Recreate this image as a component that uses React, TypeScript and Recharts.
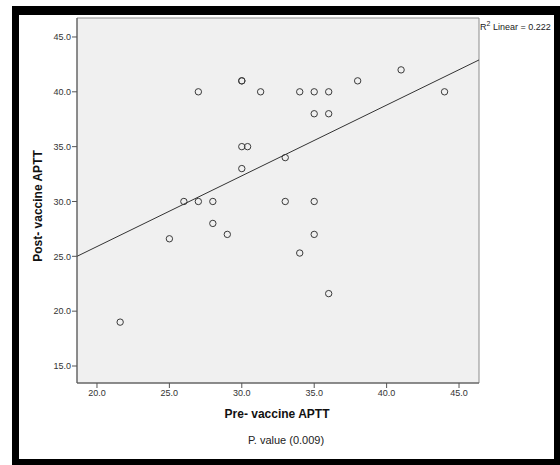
import React from "react";
import { CartesianGrid, ReferenceArea, ReferenceLine, Scatter, ScatterChart, XAxis, YAxis } from "recharts";

// pre / post vaccine APTT pairs
const preAPTT = [21.6, 25, 26, 27, 27, 28, 28, 29, 30, 30, 30, 30.4, 30, 31.3, 33, 33, 34, 34, 35, 35, 35, 35, 36, 36, 36, 38, 41, 44];
const postAPTT = [19, 26.6, 30, 40, 30, 30, 28, 27, 41, 41, 35, 35, 33, 40, 34, 30, 40, 25.3, 40, 38, 30, 27, 40, 38, 21.6, 41, 42, 40];

const xTicks = [20, 25, 30, 35, 40, 45];
const yTicks = [15, 20, 25, 30, 35, 40, 45];
const xDomain = [18.62, 46.38];
const yDomain = [13.45, 46.73];

// fit line as drawn on the plot (R2 linear = 0.222)
const fitIntercept = 12.99;
const fitSlope = 0.645;

const points = preAPTT.map((x, i) => ({ pre: x, post: postAPTT[i] }));
const fitAt = (x: number) => fitIntercept + fitSlope * x;

const tickStyle = { fontFamily: "Liberation Sans, Arial, sans-serif", fontSize: 9, fill: "#333" };

const Ring = (props: any) => {
  const { cx, cy } = props;
  if (cx == null || cy == null) return null;
  return <circle cx={cx} cy={cy} r={3.2} fill="none" stroke="#3a3a3a" strokeWidth={1} />;
};

const App: React.FC = () => {
  return (
    <div style={{ position: "absolute", left: 0, top: 0, width: 560, height: 465, background: "#fff" }}>
      <div
        style={{
          position: "absolute", left: 12, top: 6, width: 535, height: 444,
          borderLeft: "7px solid #000", borderTop: "9px solid #000",
          borderRight: "6px solid #000", borderBottom: "6px solid #000",
        }}
      />
      <div style={{ position: "absolute", left: 0, top: 0 }}>
        <ScatterChart width={560} height={465} margin={{ top: 18, right: 81, left: 0, bottom: 0 }}>
          <ReferenceArea x1={xDomain[0]} x2={xDomain[1]} y1={yDomain[0]} y2={yDomain[1]}
                         fill="#f0f0f0" fillOpacity={1} stroke="#8c8c8c" strokeWidth={1} />
          <CartesianGrid horizontal={false} vertical={false} />
          <XAxis type="number" dataKey="pre" domain={xDomain} ticks={xTicks} allowDataOverflow
                 height={82} tickSize={5} tickMargin={2} stroke="#555" tick={tickStyle}
                 tickFormatter={(v: number) => v.toFixed(1)} />
          <YAxis type="number" dataKey="post" domain={yDomain} ticks={yTicks} allowDataOverflow
                 width={77} tickSize={5} tickMargin={1} stroke="#555" tick={tickStyle}
                 tickFormatter={(v: number) => v.toFixed(1)} />
          <ReferenceLine
            segment={[{ x: xDomain[0], y: fitAt(xDomain[0]) }, { x: xDomain[1], y: fitAt(xDomain[1]) }]}
            stroke="#333" strokeWidth={1} />
          <Scatter data={points} shape={<Ring />} isAnimationActive={false} />
        </ScatterChart>
      </div>
      <svg width={560} height={465} style={{ position: "absolute", left: 0, top: 0, pointerEvents: "none" }}>
        <text x={38} y={206} transform="rotate(-90 38 206)" textAnchor="middle" dominantBaseline="central"
              fontFamily="Liberation Sans, Arial, sans-serif" fontSize={12} fontWeight="bold" fill="#111">
          Post- vaccine APTT
        </text>
        <text x={277} y={414} textAnchor="middle" dominantBaseline="central"
              fontFamily="Liberation Sans, Arial, sans-serif" fontSize={12} fontWeight="bold" fill="#111">
          Pre- vaccine APTT
        </text>
        <text x={286} y={440} textAnchor="middle" dominantBaseline="central"
              fontFamily="Liberation Sans, Arial, sans-serif" fontSize={11} fill="#222">
          P. value (0.009)
        </text>
        <text x={480} y={30} fontFamily="Liberation Sans, Arial, sans-serif" fontSize={9} fill="#222">
          R<tspan dy={-4} fontSize={7}>2</tspan><tspan dy={4}> Linear = 0.222</tspan>
        </text>
      </svg>
    </div>
  );
};

export default App;
